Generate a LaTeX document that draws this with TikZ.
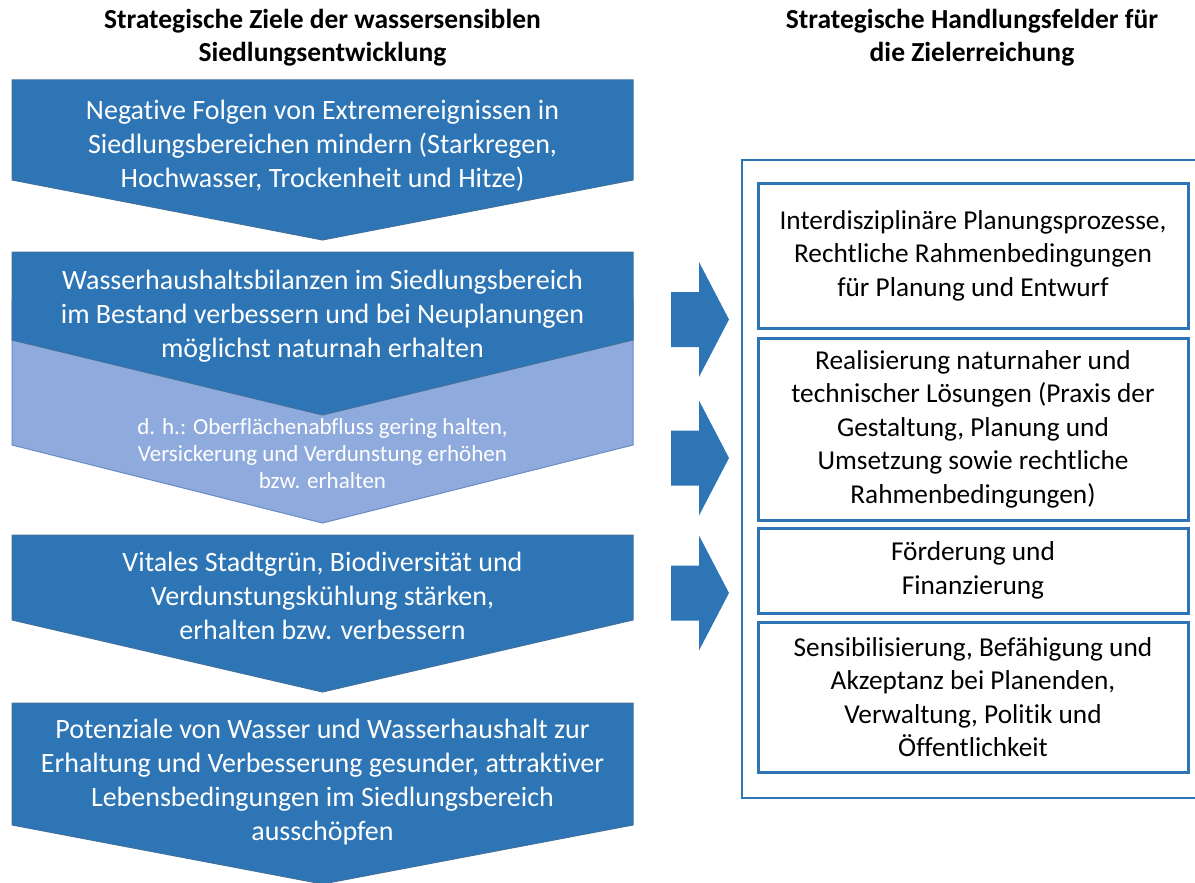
\documentclass[tikz,border=0pt]{standalone}
\usepackage{fontspec}
\setmainfont{Carlito}[Ligatures=NoCommon]
\definecolor{zielblau}{HTML}{2E75B6}
\definecolor{zielrand}{HTML}{41719C}
\definecolor{zielhell}{HTML}{8FAADC}
\definecolor{hellrand}{HTML}{6A8BC4}
\newcommand{\zielform}[4][ziel]{\draw[#1] (12,#2) -- (633,#2) -- (633,#3) -- (322.5,#4) -- (12,#3) -- cycle;}
\begin{document}
\begin{tikzpicture}[x=1pt, y=-1pt,
    ziel/.style={fill=zielblau, draw=zielrand, line width=1pt},
    zielsub/.style={fill=zielhell, draw=hellrand, line width=1pt},
    zieltext/.style={text=white, align=center, font=\fontsize{28}{34}\selectfont},
    subtext/.style={text=white, align=center, font=\fontsize{23}{27}\selectfont},
    kopf/.style={align=center, font=\bfseries\fontsize{27.5}{33}\selectfont},
    feld/.style={draw=zielblau, line width=3pt, minimum width=430pt, align=center, font=\fontsize{27.3}{33.5}\selectfont}]
    \useasboundingbox (0,0) rectangle (1195,883);
    \clip (0,0) rectangle (1195,883);
    \node[kopf] (kopfL) at (322.5,38) {Strategische Ziele der wassersensiblen\\Siedlungsentwicklung};
    \node[kopf] (kopfR) at (972,38) {Strategische Handlungsfelder für\\die Zielerreichung};
    \zielform{80}{180}{240}
    \draw[zielsub] (12,300) -- (633,300) -- (633,445) -- (322.5,523) -- (12,445) -- cycle;
    \zielform{252}{340}{415}
    \zielform{535}{620}{692}
    \zielform{703}{825}{884}
    \node[zieltext] (zielA) at (322.5,146) {Negative Folgen von Extremereignissen in\\Siedlungsbereichen mindern (Starkregen,\\Hochwasser, Trockenheit und Hitze)};
    \node[zieltext] (zielB) at (322.5,316) {Wasserhaushaltsbilanzen im Siedlungsbereich\\im Bestand verbessern und bei Neuplanungen\\möglichst naturnah erhalten};
    \node[subtext] (zielBsub) at (322.5,454) {d. h.: Oberflächenabfluss gering halten,\\Versickerung und Verdunstung erhöhen\\bzw. erhalten};
    \node[zieltext] (zielC) at (322.5,596) {Vitales Stadtgrün, Biodiversität und\\Verdunstungskühlung stärken,\\erhalten bzw. verbessern};
    \node[zieltext] (zielD) at (322.5,782) {Potenziale von Wasser und Wasserhaushalt zur\\Erhaltung und Verbesserung gesunder, attraktiver\\Lebensbedingungen im Siedlungsbereich\\ausschöpfen};
    \foreach \ym in {319.5,458,593}
        \fill[zielblau] (671,\ym-27.5) -- (699,\ym-27.5) -- (699,\ym-57.5) -- (729,\ym) -- (699,\ym+57.5) -- (699,\ym+27.5) -- (671,\ym+27.5) -- cycle;
    \draw[zielblau, line width=2pt] (742,160) rectangle (1210,798);
    \node[feld, minimum height=145pt] (feldA) at (973,255.5) {Interdisziplinäre Planungsprozesse,\\Rechtliche Rahmenbedingungen\\für Planung und Entwurf};
    \node[feld, minimum height=182pt] (feldB) at (973,429) {Realisierung naturnaher und\\technischer Lösungen (Praxis der\\Gestaltung, Planung und\\Umsetzung sowie rechtliche\\Rahmenbedingungen)};
    \node[feld, minimum height=85pt] (feldC) at (973,570.5) {Förderung und\\Finanzierung};
    \node[feld, minimum height=150pt] (feldD) at (973,697) {Sensibilisierung, Befähigung und\\Akzeptanz bei Planenden,\\Verwaltung, Politik und\\Öffentlichkeit};
\end{tikzpicture}
\end{document}
